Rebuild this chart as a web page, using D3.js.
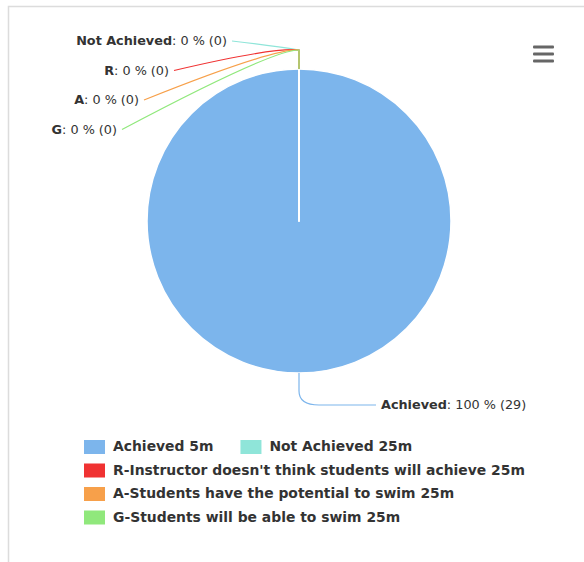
<!DOCTYPE html>
<html><head><meta charset="utf-8">
<script src="https://cdn.jsdelivr.net/npm/d3@7"></script>
<style>
html,body{margin:0;padding:0;background:#fff;}
svg{display:block;}
</style>
</head><body>
<svg id="chart" width="584" height="562"></svg>
<script>
const categories = ["Achieved", "Not Achieved", "R", "A", "G"];
const values = [29, 0, 0, 0, 0];
const legendNames = ["Achieved 5m", "Not Achieved 25m", "R-Instructor doesn't think students will achieve 25m", "A-Students have the potential to swim 25m", "G-Students will be able to swim 25m"];
const colors = ["#7cb5ec", "#8fe5d9", "#f03232", "#f7a04a", "#90e87c"];

const svg = d3.select("#chart");
const FONT = "'DejaVu Sans', sans-serif";

// frame
svg.append("rect").attr("x", 8.5).attr("y", 6.5).attr("width", 620).attr("height", 620)
  .attr("fill", "#fff").attr("stroke", "#dcdcdc").attr("stroke-width", 1.5);

// menu icon
const menu = svg.append("g").attr("transform", "translate(533,47)");
[0, 7, 14].forEach(dy => menu.append("rect").attr("x", 0).attr("y", dy - 1.5).attr("width", 21).attr("height", 3).attr("rx", 1).attr("fill", "#666"));

const cx = 299, cy = 221, r = 152;
const total = d3.sum(values);
const data = categories.map((c, i) => ({name: c, value: values[i], color: colors[i], legend: legendNames[i]}));
const pie = d3.pie().value(d => d.value).sort(null);
const arcs = pie(data);
const arc = d3.arc().innerRadius(0).outerRadius(r);

const g = svg.append("g").attr("transform", `translate(${cx},${cy})`);
g.selectAll("path.slice").data(arcs).enter().append("path")
  .attr("class", "slice")
  .attr("d", arc)
  .attr("fill", d => d.data.color)
  .attr("stroke", "#fff").attr("stroke-width", 1.5).attr("stroke-linejoin", "round");

// data labels
const labelG = svg.append("g");
const zeroArcs = arcs.filter(d => d.data.value === 0);
const bigArcs = arcs.filter(d => d.data.value > 0);

function pct(v) { return Math.round(v / total * 100); }
function addLabel(x, y, d, anchor) {
  const t = labelG.append("text").attr("x", x).attr("y", y).attr("text-anchor", anchor)
    .attr("dominant-baseline", "middle")
    .attr("font-family", FONT).attr("font-size", 12.8).attr("fill", "#333");
  t.append("tspan").attr("font-weight", "bold").text(d.data.name);
  t.append("tspan").text(`: ${pct(d.data.value)} % (${d.data.value})`);
  return t;
}

// zero-value slices at top: labels stacked on the left
const topX = cx, topY = cy - r;       // slice edge
const knotY = topY - 19;               // connectors bend point
zeroArcs.forEach((d, i) => {
  const ly = cy - r - 28 + i * 29.5;
  const lx = [227, 169, 139, 117][i];
  const endX = lx + 5;
  const path = d3.path();
  path.moveTo(topX, topY);
  path.lineTo(topX, knotY);
  path.quadraticCurveTo(topX - 25, knotY - 4 + i * 1, endX, ly);
  labelG.append("path").attr("d", path.toString()).attr("fill", "none")
    .attr("stroke", d.data.color).attr("stroke-width", 1.2);
  addLabel(lx, ly, d, "end");
});

// main slice label at the bottom
bigArcs.forEach(d => {
  const sx = cx, sy = cy + r;
  const ly = sy + 32, lx = 381;
  const path = d3.path();
  path.moveTo(sx, sy);
  path.lineTo(sx, ly - 14);
  path.quadraticCurveTo(sx, ly, sx + 20, ly);
  path.lineTo(lx - 5, ly);
  labelG.append("path").attr("d", path.toString()).attr("fill", "none")
    .attr("stroke", d.data.color).attr("stroke-width", 1.2);
  addLabel(lx, ly, d, "start");
});

// legend (flow layout)
const legend = svg.append("g");
const lx0 = 84, maxW = 460, rowH = 23.5, ly0 = 447;
let x = lx0, row = 0;
data.forEach(d => {
  const item = legend.append("g");
  const txt = item.append("text").attr("x", 29).attr("y", 0).attr("dominant-baseline", "middle")
    .attr("font-family", FONT).attr("font-weight", "bold").attr("font-size", 13.9).attr("fill", "#333")
    .text(d.legend);
  const w = 29 + txt.node().getComputedTextLength();
  if (x > lx0 && x + w - lx0 > maxW) { x = lx0; row++; }
  item.attr("transform", `translate(${x},${ly0 + row * rowH})`);
  item.insert("rect", "text").attr("x", 0).attr("y", -7).attr("width", 21).attr("height", 14).attr("fill", d.color);
  x += w + 27;
});
</script>
</body></html>
